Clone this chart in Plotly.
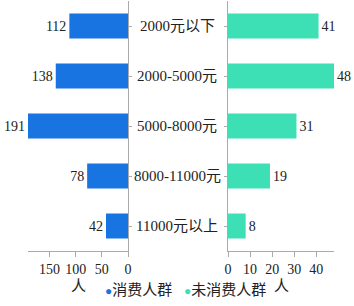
import plotly.graph_objects as go

categories = ["2000元以下", "2000-5000元", "5000-8000元", "8000-11000元", "11000元以上"]
consumers = [112, 138, 191, 78, 42]
non_consumers = [41, 48, 31, 19, 8]
left_ticks = [0, 50, 100, 150]
right_ticks = [0, 10, 20, 30, 40]
series_names = ["消费人群", "未消费人群"]
unit_label = "人"

BLUE = "#1874e0"
GREEN = "#3ce0b4"
AXIS = "#aaaaaa"
TXT = "#222222"
FONT = "Liberation Serif, Times New Roman, Noto Sans CJK SC, serif"

fig = go.Figure()
fig.add_trace(go.Bar(
    y=categories, x=consumers, orientation="h", xaxis="x", yaxis="y",
    marker=dict(color=BLUE, line=dict(width=0)), width=0.5,
    text=consumers, textposition="outside", cliponaxis=False,
    textfont=dict(size=14, color=TXT, family=FONT), showlegend=False,
))
fig.add_trace(go.Bar(
    y=categories, x=non_consumers, orientation="h", xaxis="x2", yaxis="y2",
    marker=dict(color=GREEN, line=dict(width=0)), width=0.5,
    text=non_consumers, textposition="outside", cliponaxis=False,
    textfont=dict(size=14, color=TXT, family=FONT), showlegend=False,
))
for i, (name, col) in enumerate(zip(series_names, [BLUE, GREEN])):
    fig.add_trace(go.Scatter(
        x=[None], y=[None], mode="markers",
        name=f"<span style='color:{col};font-size:12px'>●</span>{name}",
        marker=dict(color=col, size=1, opacity=0),
        xaxis="x2", yaxis="y2", legend="legend" if i == 0 else "legend2"))

W, H = 354, 306
ydom = [(H - 251) / H, (H - 1) / H]
left_dom = [28 / W, 128 / W]
right_dom = [228 / W, 334 / W]

axis_common = dict(showgrid=False, zeroline=False, showline=True, linecolor=AXIS,
                   linewidth=1, ticks="outside", ticklen=5, tickcolor=AXIS,
                   automargin=False,
                   tickfont=dict(size=14, color=TXT, family=FONT))
yaxis_common = dict(domain=ydom, categoryorder="array", categoryarray=categories,
                    autorange="reversed", showticklabels=False, showgrid=False,
                    zeroline=False, showline=True, linecolor=AXIS, ticks="outside",
                    ticklen=3, tickcolor=AXIS, automargin=False)

legend_common = dict(orientation="h", yanchor="bottom", y=0, xanchor="left",
                     font=dict(size=15, color=TXT, family=FONT), itemwidth=30,
                     bgcolor="rgba(0,0,0,0)", borderwidth=0)

fig.update_layout(
    width=W, height=H,
    margin=dict(l=0, r=0, t=0, b=0),
    paper_bgcolor="white", plot_bgcolor="white",
    font=dict(family=FONT, color=TXT, size=14),
    xaxis=dict(domain=left_dom, range=[191, 0], tickvals=left_ticks,
               anchor="y", **axis_common),
    yaxis=dict(anchor="x", side="right", **yaxis_common),
    xaxis2=dict(domain=right_dom, range=[0, 48], tickvals=right_ticks,
                anchor="y2", **axis_common),
    yaxis2=dict(anchor="x2", side="left", **yaxis_common),
    legend=dict(x=(105 - 40) / W, **legend_common),
    legend2=dict(x=(184 - 40) / W, **legend_common),
)

# unit labels under each value axis
for dom in (left_dom, right_dom):
    fig.add_annotation(x=(dom[0] + dom[1]) / 2, xref="paper", y=(H - 286) / H,
                       yref="paper", text=unit_label, showarrow=False,
                       xanchor="center", yanchor="middle",
                       font=dict(size=15, color=TXT, family=FONT))

for c in categories:
    fig.add_annotation(x=177 / W, xref="paper", y=c, yref="y2", text=c,
                       showarrow=False, xanchor="center",
                       font=dict(size=15, color=TXT, family=FONT))

fig.write_html("out.html", config={"displayModeBar": False},
               post_script="document.body.style.margin='0';document.body.style.overflow='hidden';")
